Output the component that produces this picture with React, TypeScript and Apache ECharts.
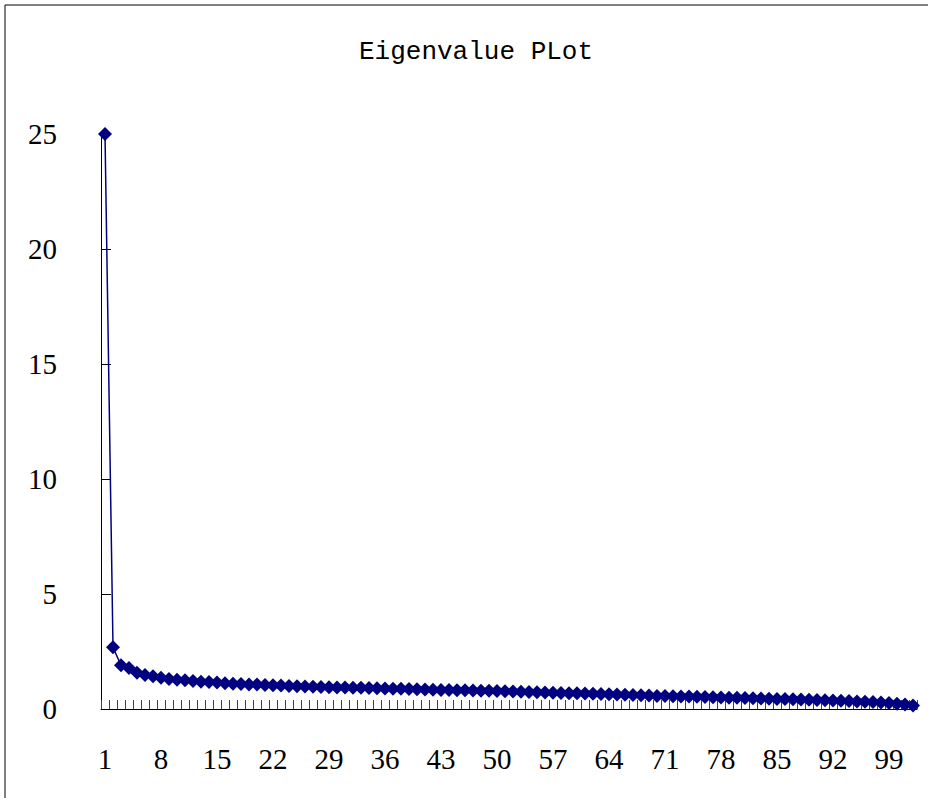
import React, { useEffect, useRef } from "react";
import * as echarts from "echarts";

const titleText = "Eigenvalue PLot";

const eigenvalues: number[] = [
  25.0, 2.68, 1.9, 1.78, 1.58, 1.48, 1.42, 1.36, 1.3, 1.27,
  1.25, 1.22, 1.19, 1.17, 1.15, 1.12, 1.1, 1.09, 1.07, 1.06,
  1.04, 1.03, 1.02, 1.0, 0.99, 0.98, 0.97, 0.96, 0.95, 0.94,
  0.93, 0.92, 0.92, 0.91, 0.9, 0.89, 0.88, 0.88, 0.87, 0.86,
  0.85, 0.84, 0.83, 0.83, 0.82, 0.81, 0.8, 0.79, 0.79, 0.78,
  0.77, 0.76, 0.75, 0.74, 0.73, 0.72, 0.71, 0.7, 0.69, 0.68,
  0.67, 0.66, 0.65, 0.64, 0.63, 0.62, 0.61, 0.6, 0.59, 0.57,
  0.56, 0.55, 0.54, 0.54, 0.53, 0.52, 0.51, 0.5, 0.49, 0.49,
  0.48, 0.47, 0.46, 0.45, 0.44, 0.43, 0.42, 0.41, 0.4, 0.39,
  0.38, 0.37, 0.36, 0.35, 0.33, 0.32, 0.3, 0.28, 0.26, 0.23,
  0.2, 0.15,
];

const categories: string[] = eigenvalues.map((_, i) => String(i + 1));

const yMin = 0;
const yMax = 25;
const yStep = 5;

export default function App() {
  const ref = useRef<HTMLDivElement>(null);

  useEffect(() => {
    document.body.style.margin = "0";
    if (!ref.current) return;
    const chart = echarts.init(ref.current, undefined, { renderer: "svg" });
    chart.setOption({
      animation: false,
      backgroundColor: "#ffffff",
      title: {
        text: titleText,
        left: 354,
        top: 34,
        textStyle: {
          fontFamily: "Liberation Mono",
          fontSize: 26,
          fontWeight: "normal",
          color: "#000000",
        },
      },
      graphic: [
        {
          type: "rect",
          shape: { x: 5, y: 5, width: 1000, height: 1000 },
          style: { fill: "none", stroke: "#000000", lineWidth: 1 },
          silent: true,
        },
      ],
      grid: { left: 101, right: 11, top: 134, bottom: 89, containLabel: false },
      xAxis: {
        type: "category",
        data: categories,
        boundaryGap: true,
        axisLine: { show: true, lineStyle: { color: "#000000", width: 1 } },
        axisTick: {
          show: true,
          inside: true,
          length: 9,
          interval: 0,
          alignWithLabel: false,
          lineStyle: { color: "#404040", width: 1 },
        },
        axisLabel: {
          interval: 6,
          margin: 35,
          fontFamily: "Liberation Serif",
          fontSize: 29,
          color: "#000000",
        },
        splitLine: { show: false },
      },
      yAxis: {
        type: "value",
        min: yMin,
        max: yMax,
        interval: yStep,
        axisLine: { show: true, lineStyle: { color: "#000000", width: 1 } },
        axisTick: { show: true, inside: true, length: 10, lineStyle: { color: "#000000" } },
        axisLabel: {
          margin: 44,
          fontFamily: "Liberation Serif",
          fontSize: 29,
          color: "#000000",
        },
        splitLine: { show: false },
      },
      series: [
        {
          type: "line",
          data: eigenvalues,
          symbol: "diamond",
          symbolSize: 14,
          showAllSymbol: true,
          itemStyle: { color: "#000080" },
          lineStyle: { color: "#000080", width: 1.5 },
        },
      ],
    });
    return () => chart.dispose();
  }, []);

  return (
    <div
      ref={ref}
      style={{ position: "absolute", left: 0, top: 0, width: 928, height: 798 }}
    />
  );
}
